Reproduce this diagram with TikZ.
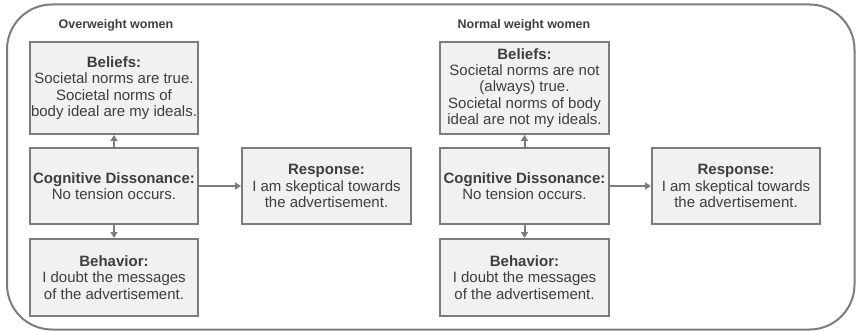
\documentclass[tikz,border=0pt]{standalone}
\usepackage{fontspec}
\setmainfont{Liberation Sans}
\usetikzlibrary{arrows.meta}
\definecolor{edgegray}{HTML}{7C7C7C}
\definecolor{boxfill}{HTML}{F1F1F1}
\definecolor{txtgray}{HTML}{3E3E3E}
\tikzset{
  card/.style={draw=edgegray, fill=boxfill, line width=2pt, inner sep=0pt,
    align=center, text=txtgray, font=\fontsize{15}{16.4}\selectfont},
  heading/.style={font=\bfseries\fontsize{12.5}{14}\selectfont, text=txtgray},
  link/.style={draw=edgegray, line width=2pt,
    -{Triangle[length=6pt,width=7pt]}},
}
\begin{document}
\begin{tikzpicture}[x=1pt,y=-1pt]
\useasboundingbox (0,0) rectangle (856,331);
% outer frame
\draw[edgegray, line width=2pt, rounded corners=45pt] (7,4.5) rectangle (854.5,329.5);

% overweight women
\node[heading] (titleA) at (116,25) {Overweight women};
\node[card, minimum width=168pt, minimum height=92pt] (belA) at (114,88)
  {\textbf{Beliefs:}\\Societal norms are true.\\Societal norms of\\body ideal are my ideals.};
\node[card, minimum width=168pt, minimum height=76pt] (cogA) at (114,186)
  {\textbf{Cognitive Dissonance:}\\No tension occurs.};
\node[card, minimum width=168pt, minimum height=77pt] (behA) at (114,277.5)
  {\textbf{Behavior:}\\I doubt the messages\\of the advertisement.};
\node[card, minimum width=169pt, minimum height=76pt] (resA) at (326.5,186)
  {\textbf{Response:}\\I am skeptical towards\\the advertisement.};

% normal weight women
\node[heading] (titleB) at (524,25) {Normal weight women};
\node[card, minimum width=169pt, minimum height=92pt] (belB) at (524.5,88)
  {\textbf{Beliefs:}\\Societal norms are not\\(always) true.\\Societal norms of body\\ideal are not my ideals.};
\node[card, minimum width=169pt, minimum height=76pt] (cogB) at (524.5,186)
  {\textbf{Cognitive Dissonance:}\\No tension occurs.};
\node[card, minimum width=169pt, minimum height=77pt] (behB) at (524.5,277.5)
  {\textbf{Behavior:}\\I doubt the messages\\of the advertisement.};
\node[card, minimum width=168pt, minimum height=76pt] (resB) at (736,186)
  {\textbf{Response:}\\I am skeptical towards\\the advertisement.};

% connectors
\draw[link] (cogA.north) -- (belA.south);
\draw[link] (cogA.south) -- (behA.north);
\draw[link] (cogA.east) -- (resA.west);
\draw[link] (cogB.north) -- (belB.south);
\draw[link] (cogB.south) -- (behB.north);
\draw[link] (cogB.east) -- (resB.west);
\end{tikzpicture}
\end{document}
